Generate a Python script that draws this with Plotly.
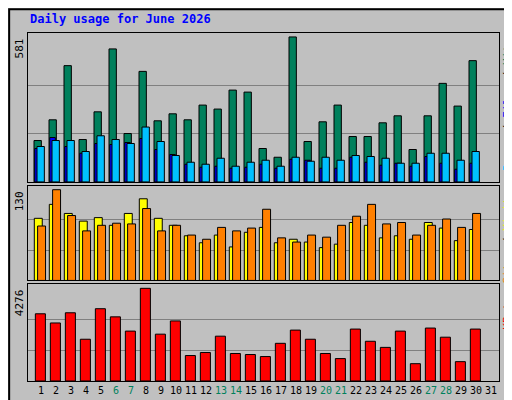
import plotly.graph_objects as go
from plotly.subplots import make_subplots

days = list(range(1, 31))
hits = [166, 249, 466, 170, 281, 533, 194, 443, 245, 273, 249, 308, 292, 368, 360,
        134, 99, 581, 162, 241, 308, 182, 182, 237, 265, 130, 265, 395, 304, 486]
files = [134, 178, 142, 115, 154, 150, 158, 174, 130, 110, 71, 59, 63, 55, 59,
         71, 55, 91, 87, 55, 55, 99, 79, 67, 75, 63, 102, 75, 51, 75]
pages = [142, 166, 166, 122, 185, 170, 154, 220, 162, 106, 79, 71, 95, 63, 79,
         87, 63, 99, 83, 99, 87, 106, 102, 95, 75, 75, 115, 115, 87, 122]
sites = [89, 109, 96, 85, 90, 79, 96, 117, 89, 79, 64, 54, 65, 48, 69,
         76, 54, 59, 55, 47, 52, 83, 79, 61, 64, 59, 83, 75, 57, 73]
visits = [78, 130, 93, 71, 79, 82, 81, 103, 71, 79, 65, 59, 76, 71, 75,
          102, 61, 55, 65, 62, 79, 92, 109, 81, 83, 65, 79, 88, 76, 96]
kbytes = [3101, 2678, 3148, 1927, 3336, 2960, 2302, 4276, 2161, 2772, 1175, 1316, 2068, 1269, 1222,
          1128, 1739, 2349, 1927, 1269, 1034, 2396, 1833, 1551, 2302, 799, 2443, 2021, 893, 2396]
weekend = [6, 7, 13, 14, 20, 21, 27, 28]

GRAY = "#C0C0C0"
MONO = "DejaVu Sans Mono"

fig = make_subplots(rows=3, cols=1, shared_xaxes=True)

def bars(vals, color, offset, width, row):
    fig.add_trace(go.Bar(x=days, y=vals, offset=offset, width=width,
                         marker=dict(color=color, line=dict(color="black", width=1))),
                  row=row, col=1)

bars(hits, "#00805C", -0.47, 0.49, 1)
bars(files, "#0000FF", -0.42, 0.37, 1)
bars(pages, "#00C0FF", -0.27, 0.49, 1)
bars(sites, "#FFFF00", -0.45, 0.53, 2)
bars(visits, "#FF8000", -0.23, 0.53, 2)
bars(kbytes, "#FF0000", -0.38, 0.67, 3)

maxes = [max(hits), max(visits), max(kbytes)]
tops = [max(hits) * 151 / 147, max(visits) * 96 / 92, max(kbytes) * 95 / 91]
domains = [[0.572, 1.0], [0.289, 0.561], [0.0, 0.278]]
for i in range(3):
    fig.update_yaxes(row=i + 1, col=1, domain=domains[i], range=[0, tops[i]],
                     tickvals=[maxes[i] / 3, maxes[i] * 2 / 3], showticklabels=False,
                     gridcolor="#808080", gridwidth=1, zeroline=False,
                     showline=True, linecolor="black", mirror=True, ticks="")
    fig.update_xaxes(row=i + 1, col=1, range=[0.13, 31.53], showgrid=False,
                     showline=True, linecolor="black", mirror=True, zeroline=False)

ticktext = [f'<span style="color:#00805C">{d}</span>' if d in weekend else str(d)
            for d in range(1, 32)]
fig.update_xaxes(row=3, col=1, tickvals=list(range(1, 32)), ticktext=ticktext,
                 ticks="", tickangle=0, tickfont=dict(family=MONO, size=10, color="black"))

# left max labels
ypos = [1.0, 0.561, 0.278]
for i, m in enumerate(maxes):
    fig.add_annotation(text=str(m), xref="paper", yref="paper", x=0, y=ypos[i] - 0.01,
                       xanchor="center", yanchor="top", xshift=-9, textangle=-90, showarrow=False,
                       font=dict(family=MONO, size=11, color="black"))

# right legends
legends = [
    ('<span style="color:#00C0FF">Pages</span> / <span style="color:#0000FF">Files</span>'
     ' / <span style="color:#00805C">Hits</span>', 1.0),
    ('<span style="color:#FF8000">Sites</span> / <span style="color:#FFFF00">Visits</span>', 0.561),
    ('<span style="color:#FF0000">KBytes</span>', 0.278),
]
for txt, y in legends:
    fig.add_annotation(text=txt, xref="paper", yref="paper", x=1.0, y=y - 0.01,
                       xanchor="center", yanchor="top", xshift=9, textangle=-90, showarrow=False,
                       font=dict(family=MONO, size=11, color="black"))

fig.add_annotation(text="<b>Daily usage for June 2026</b>", xref="paper", yref="paper",
                   x=0.0, y=1.015, xanchor="left", yanchor="bottom", showarrow=False,
                   font=dict(family=MONO, size=12, color="#0000FF"))

# outer frame
fig.add_shape(type="rect", xref="paper", yref="paper", x0=-0.040, x1=1.042, y0=-0.059, y1=1.068,
              line=dict(color="black", width=2))

fig.update_layout(
    width=512, height=400, barmode="overlay", showlegend=False,
    paper_bgcolor=GRAY, plot_bgcolor=GRAY,
    margin=dict(l=20, r=21, t=25, b=22),
)

fig.write_html("out.html")
